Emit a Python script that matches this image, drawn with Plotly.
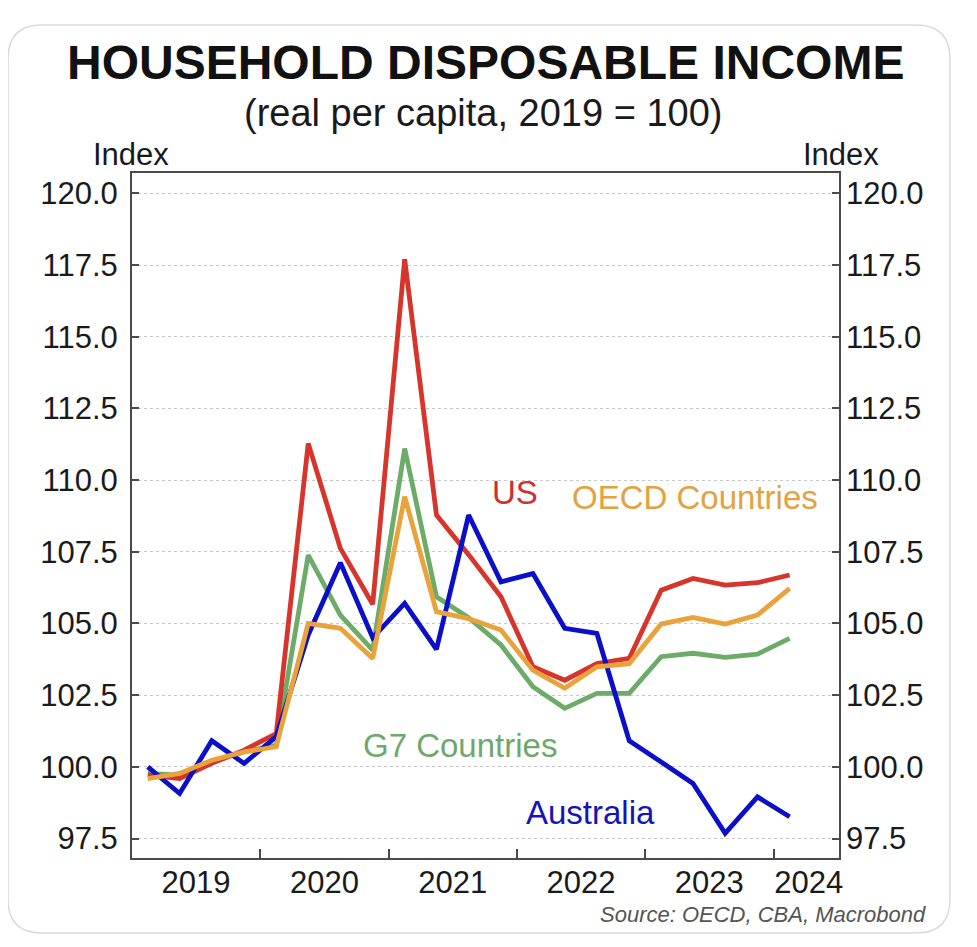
import pandas as pd
import plotly.graph_objects as go

# ---------------- data ----------------
quarters = ["2019Q1", "2019Q2", "2019Q3", "2019Q4",
            "2020Q1", "2020Q2", "2020Q3", "2020Q4",
            "2021Q1", "2021Q2", "2021Q3", "2021Q4",
            "2022Q1", "2022Q2", "2022Q3", "2022Q4",
            "2023Q1", "2023Q2", "2023Q3", "2023Q4",
            "2024Q1"]

australia = [100.00, 99.07, 100.91, 100.12, 101.05, 104.60, 107.12, 104.50,
             105.70, 104.10, 108.78, 106.45, 106.74, 104.83, 104.65, 100.91,
             100.17, 99.42, 97.68, 98.95, 98.26]
us = [99.71, 99.59, 100.12, 100.58, 101.16, 111.28, 107.62, 105.67,
      117.70, 108.78, 107.40, 105.93, 103.49, 103.02, 103.60, 103.78,
      106.16, 106.57, 106.34, 106.42, 106.69]
g7 = [99.77, 99.71, 100.17, 100.52, 100.76, 107.38, 105.29, 104.07,
      111.10, 105.93, 105.20, 104.25, 102.79, 102.04, 102.56, 102.56,
      103.84, 103.96, 103.82, 103.93, 104.48]
oecd = [99.59, 99.77, 100.23, 100.52, 100.70, 105.00, 104.83, 103.78,
        109.42, 105.41, 105.17, 104.77, 103.37, 102.74, 103.49, 103.60,
        104.98, 105.21, 104.98, 105.29, 106.22]

year_ticks = ["2020-01-01", "2021-01-01", "2022-01-01", "2023-01-01", "2024-01-01"]
year_label_pos = ["2019-07-02", "2020-07-02", "2021-07-02", "2022-07-02",
                  "2023-07-02", "2024-04-10"]
year_labels = ["2019", "2020", "2021", "2022", "2023", "2024"]
y_ticks = [97.5, 100.0, 102.5, 105.0, 107.5, 110.0, 112.5, 115.0, 117.5, 120.0]

# ---------------- helpers ----------------
periods = pd.PeriodIndex(quarters, freq="Q")
dates = [p.start_time + (p.end_time - p.start_time) / 2 for p in periods]

OFF = 8                      # page body margin of the browser
W, H = 977 - 2 * OFF, 947 - 2 * OFF
L, R, T, B = 132, 839, 173, 858   # plot box in reference pixels


def px(xp):
    return (xp - L) / (R - L)


def py(yp):
    return (B - yp) / (B - T)


FONT = "Arial, Liberation Sans, Helvetica, sans-serif"

fig = go.Figure()

series = [
    ("G7 Countries", g7, "#6cab68"),
    ("US", us, "#d7352c"),
    ("Australia", australia, "#0b10c8"),
    ("OECD Countries", oecd, "#e9a33a"),
]
for name, vals, col in series:
    fig.add_trace(go.Scatter(x=dates, y=vals, mode="lines", name=name,
                             line=dict(color=col, width=4.8),
                             hoverinfo="skip"))

# invisible helpers so that the right / label axes render
fig.add_trace(go.Scatter(x=[dates[0]], y=[100], yaxis="y2", mode="markers",
                         marker=dict(opacity=0), showlegend=False,
                         hoverinfo="skip"))
fig.add_trace(go.Scatter(x=[dates[0]], y=[100], xaxis="x2", mode="markers",
                         marker=dict(opacity=0), showlegend=False,
                         hoverinfo="skip"))

yr = [96.82, 120.71]
xr = ["2019-01-01", "2024-07-05"]
axis_col = "#4a4a4a"

fig.update_layout(
    width=W, height=H,
    margin=dict(l=L - OFF, r=W - (R - OFF), t=T - OFF, b=H - (B - OFF), pad=0),
    paper_bgcolor="white", plot_bgcolor="white",
    showlegend=False,
    font=dict(family=FONT, color="#1a1a1a"),
    xaxis=dict(type="date", range=xr, tickvals=year_ticks,
               ticktext=[""] * len(year_ticks),
               ticks="inside", ticklen=9, tickwidth=1.5, tickcolor=axis_col,
               showgrid=False, zeroline=False,
               showline=True, linecolor=axis_col, linewidth=2, mirror=True),
    xaxis2=dict(type="date", range=xr, overlaying="x", side="bottom",
                anchor="y", tickvals=year_label_pos, ticktext=year_labels,
                ticks="", showgrid=False, zeroline=False, showline=False,
                tickfont=dict(size=31, color="#1a1a1a"),
                ticklabelstandoff=3),
    yaxis=dict(range=yr, tickvals=y_ticks,
               ticktext=[f"{v:.1f}" for v in y_ticks],
               ticks="inside", ticklen=7, tickwidth=1.5, tickcolor=axis_col,
               showgrid=True, gridcolor="#c9c9c9", gridwidth=1, griddash="dot",
               zeroline=False, showline=True, linecolor=axis_col, linewidth=2,
               mirror=True, tickfont=dict(size=31, color="#1a1a1a"),
               ticklabelstandoff=6),
    yaxis2=dict(range=yr, tickvals=y_ticks,
                ticktext=[f"{v:.1f}" for v in y_ticks],
                overlaying="y", side="right", anchor="x",
                ticks="inside", ticklen=7, tickwidth=1.5, tickcolor=axis_col,
                showgrid=False, zeroline=False, showline=False,
                tickfont=dict(size=31, color="#1a1a1a"),
                ticklabelstandoff=6),
)

ann = []
ann.append(dict(text="<b>HOUSEHOLD DISPOSABLE INCOME</b>", x=px(485), y=py(62),
                font=dict(size=48, color="#111111")))
ann.append(dict(text="(real per capita, 2019 = 100)", x=px(483), y=py(113),
                font=dict(size=38, color="#1a1a1a")))
ann.append(dict(text="Index", x=px(131), y=py(155), font=dict(size=31)))
ann.append(dict(text="Index", x=px(841), y=py(155), font=dict(size=31)))
ann.append(dict(text="<i>Source: OECD, CBA, Macrobond</i>", x=px(928), y=py(914),
                xanchor="right", font=dict(size=22, color="#555555")))
ann.append(dict(text="US", x=px(515), y=py(492), font=dict(size=33, color="#cc3030")))
ann.append(dict(text="OECD Countries", x=px(695), y=py(497),
                font=dict(size=33, color="#e3a23f")))
ann.append(dict(text="G7 Countries", x=px(460), y=py(745),
                font=dict(size=33, color="#6fa86c")))
ann.append(dict(text="Australia", x=px(590), y=py(812),
                font=dict(size=33, color="#1414b8")))
for a in ann:
    a.setdefault("xanchor", "center")
    a.update(xref="paper", yref="paper", yanchor="middle", showarrow=False)
    a["font"].setdefault("family", FONT)
    a["font"].setdefault("color", "#1a1a1a")
fig.update_layout(annotations=ann)

# rounded frame around the whole graphic
x0, x1, y0, y1, r = 8, 950, 25, 933, 34
path = (f"M {px(x0 + r)},{py(y0)} L {px(x1 - r)},{py(y0)} "
        f"Q {px(x1)},{py(y0)} {px(x1)},{py(y0 + r)} "
        f"L {px(x1)},{py(y1 - r)} Q {px(x1)},{py(y1)} {px(x1 - r)},{py(y1)} "
        f"L {px(x0 + r)},{py(y1)} Q {px(x0)},{py(y1)} {px(x0)},{py(y1 - r)} "
        f"L {px(x0)},{py(y0 + r)} Q {px(x0)},{py(y0)} {px(x0 + r)},{py(y0)} Z")
fig.add_shape(type="path", path=path, xref="paper", yref="paper",
              line=dict(color="#dadada", width=1.5), layer="below")

fig.write_html("out.html")
